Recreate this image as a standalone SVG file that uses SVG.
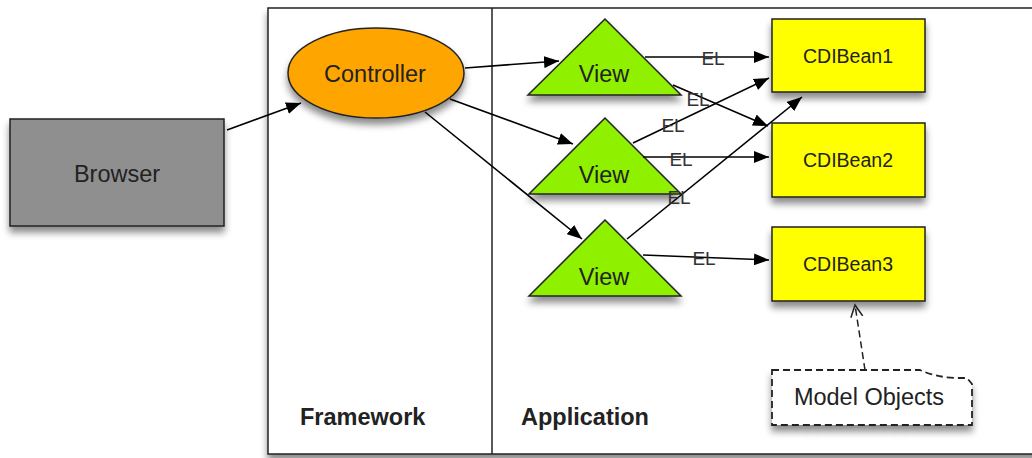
<svg xmlns="http://www.w3.org/2000/svg" width="1032" height="458" viewBox="0 0 1032 458">
<defs>
<filter id="sh" x="-20%" y="-20%" width="140%" height="160%">
<feDropShadow dx="0" dy="6" stdDeviation="3.5" flood-color="#000" flood-opacity="0.45"/>
</filter>
<marker id="ah" markerWidth="16" markerHeight="12" refX="15" refY="6" orient="auto" markerUnits="userSpaceOnUse">
<path d="M0,0 L15,6 L0,12 Z" fill="#000"/>
</marker>
<marker id="oh" markerWidth="14" markerHeight="14" refX="12" refY="7" orient="auto" markerUnits="userSpaceOnUse">
<path d="M0,1 L12,7 L0,13" fill="none" stroke="#222" stroke-width="1.5"/>
</marker>
<style>
text{font-family:"Liberation Sans",Arial,Helvetica,sans-serif;fill:#222}
.big{font-size:23.5px}
.bean{font-size:19.5px;text-anchor:middle}
.el{font-size:19px;text-anchor:middle;fill:#333}
.lbl{font-size:23.5px;font-weight:bold}
.shape{stroke:#222;stroke-width:1.5;filter:url(#sh)}
.conn line{stroke:#000;stroke-width:1.6;marker-end:url(#ah)}
</style>
</defs>
<rect width="1032" height="458" fill="#fff"/>
<g id="frame">
<rect x="268" y="8" width="800" height="446" fill="#fff" stroke="#222" stroke-width="1.5" filter="url(#sh)"/>
<line x1="492" y1="8" x2="492" y2="454" stroke="#222" stroke-width="1.5"/>
<text class="lbl" x="300" y="425">Framework</text>
<text class="lbl" x="521" y="425">Application</text>
</g>
<g id="browser">
<rect class="shape" x="10" y="119" width="214" height="107" fill="#8f8f8f"/>
<text class="big" x="117" y="182" text-anchor="middle" fill="#333">Browser</text>
</g>
<g id="controller">
<ellipse class="shape" cx="376" cy="73" rx="88" ry="45" fill="#ffa500"/>
<text class="big" x="375" y="82" text-anchor="middle">Controller</text>
</g>
<g id="view1">
<polygon class="shape" points="605,19 528,95 681,95" fill="#8ff000"/>
<text class="big" x="604" y="82" text-anchor="middle">View</text>
</g>
<g id="view2">
<polygon class="shape" points="605,118 529,194 681,194" fill="#8ff000"/>
<text class="big" x="604" y="183" text-anchor="middle">View</text>
</g>
<g id="view3">
<polygon class="shape" points="605,220 529,296 681,296" fill="#8ff000"/>
<text class="big" x="604" y="285" text-anchor="middle">View</text>
</g>
<g id="cdibean1">
<rect class="shape" x="772" y="19" width="153" height="73" fill="#ffff00"/>
<text class="bean" x="848" y="63">CDIBean1</text>
</g>
<g id="cdibean2">
<rect class="shape" x="772" y="123" width="153" height="74" fill="#ffff00"/>
<text class="bean" x="848" y="167">CDIBean2</text>
</g>
<g id="cdibean3">
<rect class="shape" x="772" y="227" width="153" height="74" fill="#ffff00"/>
<text class="bean" x="848" y="271">CDIBean3</text>
</g>
<g id="modelobjects">
<path d="M772,370 L920,370 Q935,377 955,378 L967,378 L972,384 L972,425 L772,425 Z" fill="#fff" stroke="#222" stroke-width="1.8" stroke-dasharray="7,4" filter="url(#sh)"/>
<text class="big" x="869" y="405" text-anchor="middle" fill="#333">Model Objects</text>
</g>
<g id="connectors" class="conn">
<line x1="227" y1="130" x2="301" y2="103"/>
<line x1="465" y1="68" x2="559" y2="61"/>
<line x1="450" y1="99" x2="573" y2="144"/>
<line x1="425" y1="112" x2="582" y2="239"/>
<line x1="645" y1="57" x2="769" y2="57"/>
<line x1="673" y1="85" x2="768" y2="126"/>
<line x1="633" y1="143" x2="769" y2="78"/>
<line x1="643" y1="157" x2="769" y2="157"/>
<line x1="627" y1="239" x2="802" y2="97"/>
<line x1="643" y1="255" x2="769" y2="260"/>
<path d="M865,370 L855,305" fill="none" stroke="#222" stroke-width="1.5" stroke-dasharray="7,4" marker-end="url(#oh)"/>
<text class="el" x="713" y="65">EL</text>
<text class="el" x="698" y="106">EL</text>
<text class="el" x="673" y="132">EL</text>
<text class="el" x="681" y="166">EL</text>
<text class="el" x="679" y="204">EL</text>
<text class="el" x="704" y="265">EL</text>
</g>
</svg>
